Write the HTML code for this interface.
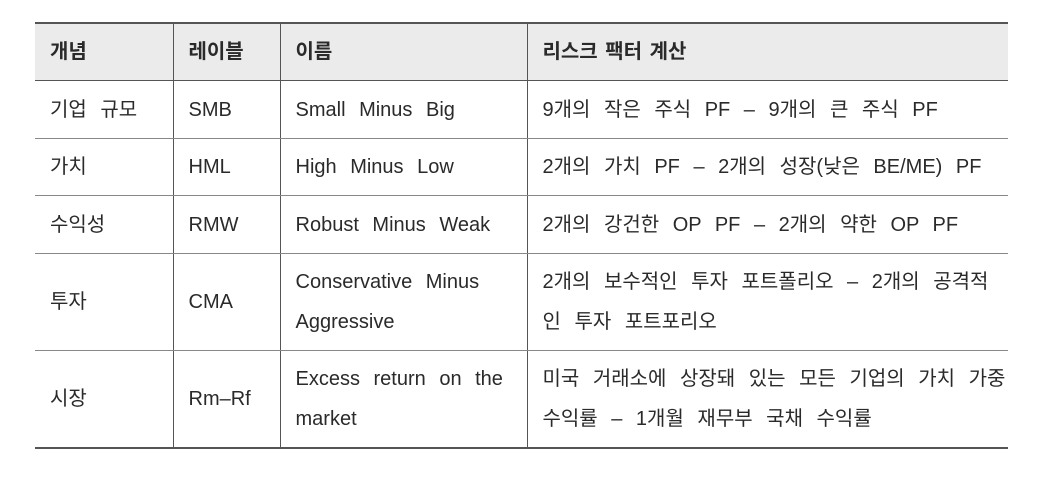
<!DOCTYPE html>
<html><head><meta charset="utf-8"><style>
body{margin:0;width:1038px;height:480px;background:#fff;font-family:"Liberation Sans","Noto Sans CJK KR",sans-serif;color:#2a2a2a}
table{position:absolute;left:35px;top:22px;width:973px;border-collapse:collapse;table-layout:fixed}
td,th{font-size:20px;text-align:left;padding:0 0 0 15px;border-left:1.5px solid #555;vertical-align:middle;line-height:40px;font-weight:normal;letter-spacing:0;word-spacing:8px;white-space:nowrap}
td:first-child,th:first-child{border-left:none}
th{background:#ebebeb;font-weight:bold;height:56px;border-top:2px solid #555;border-bottom:1.5px solid #555;word-spacing:2px}
tr.r td{border-bottom:1px solid #888}
tr.last td{border-bottom:2px solid #555}
</style></head><body>
<table>
<colgroup><col style="width:138px"><col style="width:107px"><col style="width:247px"><col></colgroup>
<tr><th>개념</th><th>레이블</th><th>이름</th><th>리스크 팩터 계산</th></tr>
<tr class="r" style="height:58px"><td>기업 규모</td><td>SMB</td><td>Small Minus Big</td><td>9개의 작은 주식 PF – 9개의 큰 주식 PF</td></tr>
<tr class="r" style="height:57px"><td>가치</td><td>HML</td><td>High Minus Low</td><td>2개의 가치 PF – 2개의 성장(낮은 BE/ME) PF</td></tr>
<tr class="r" style="height:58px"><td>수익성</td><td>RMW</td><td>Robust Minus Weak</td><td>2개의 강건한 OP PF – 2개의 약한 OP PF</td></tr>
<tr class="r" style="height:97px"><td>투자</td><td>CMA</td><td>Conservative Minus<br>Aggressive</td><td>2개의 보수적인 투자 포트폴리오 – 2개의 공격적<br>인 투자 포트포리오</td></tr>
<tr class="last" style="height:97px"><td>시장</td><td>Rm–Rf</td><td>Excess return on the<br>market</td><td>미국 거래소에 상장돼 있는 모든 기업의 가치 가중<br>수익률 – 1개월 재무부 국채 수익률</td></tr>
</table>
</body></html>
